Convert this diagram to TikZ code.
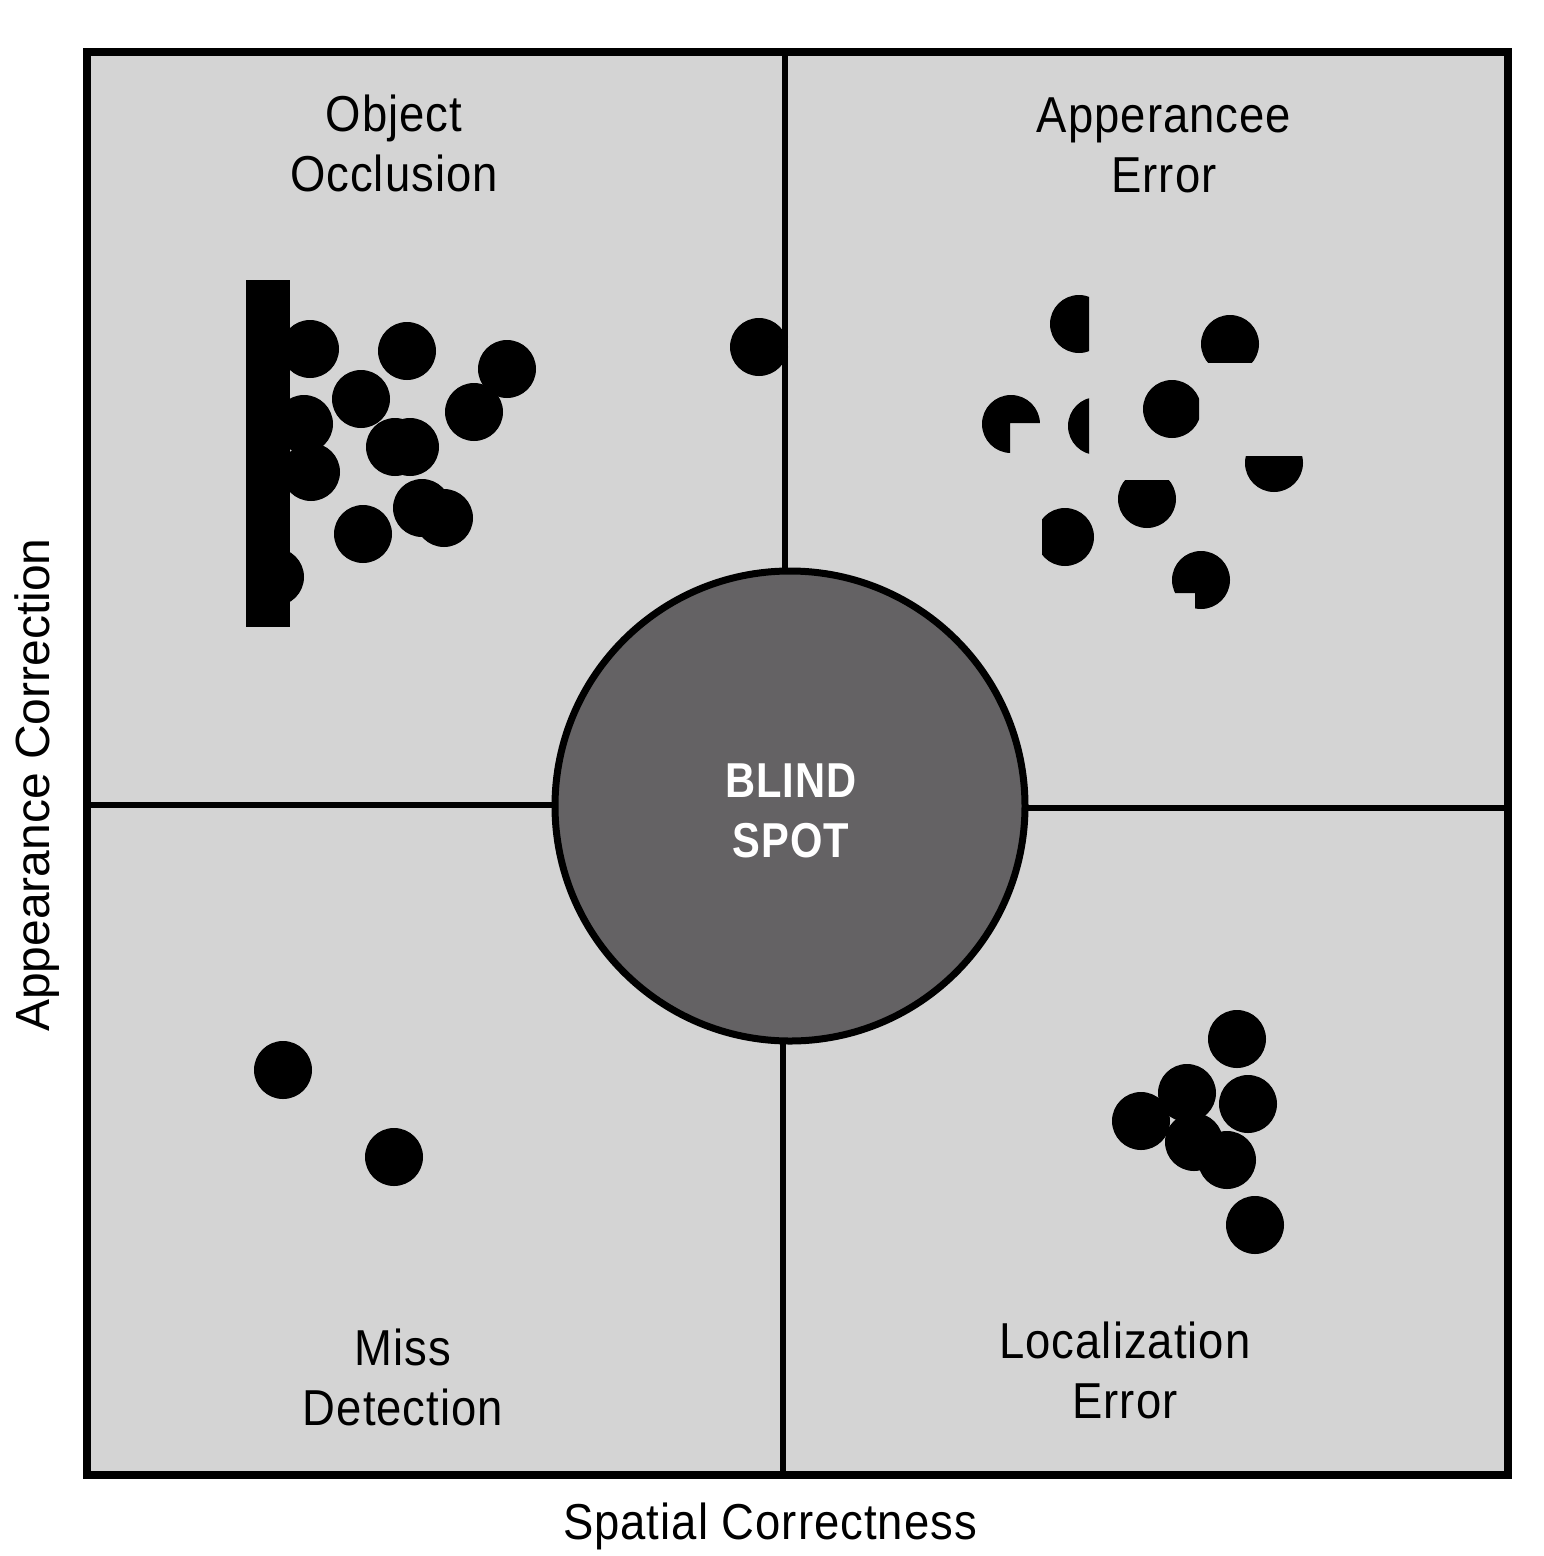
\documentclass[tikz,border=0pt]{standalone}
\usepackage{fontspec}
\setmainfont{Liberation Sans}[FakeStretch=0.9,LetterSpace=2]
\newfontfamily\axisfont{Liberation Sans}
\newfontfamily\spotfont{Liberation Sans}[FakeStretch=0.85,LetterSpace=2]
\definecolor{quadgray}{RGB}{212,212,212}
\definecolor{spotgray}{RGB}{100,98,100}
\tikzset{
  blackdot/.style={circle, fill=black, inner sep=0pt, minimum size=58pt},
  quadlabel/.style={text width=400pt, align=center, anchor=base, inner sep=0pt,
    font=\fontsize{50.5}{60}\selectfont},
  divider/.style={line width=5.5pt},
  frameline/.style={line width=8pt},
}
\begin{document}
\begin{tikzpicture}[x=1pt,y=-1pt]
\useasboundingbox (0,0) rectangle (1543,1556);
\fill[white] (0,0) rectangle (1543,1556);
% frame corners
\coordinate (tl) at (87,52);
\coordinate (br) at (1508,1475);
\fill[quadgray] (tl) rectangle (br);

% ---- Object Occlusion quadrant ----
\node[blackdot] (a1) at (310,349) {};
\node[blackdot] (a2) at (407,351) {};
\node[blackdot] (a3) at (507,369) {};
\node[blackdot] (a4) at (361,399) {};
\node[blackdot] (a5) at (474,412) {};
\node[blackdot] (a6) at (304,424) {};
\node[blackdot] (a7) at (311,472) {};
\node[blackdot] (a8) at (395,447) {};
\node[blackdot] (a9) at (410,447) {};
\node[blackdot] (a10) at (422,508) {};
\node[blackdot] (a11) at (444,518) {};
\node[blackdot] (a12) at (363,534) {};
\node[blackdot] (a13) at (275,577) {};
\node[fill=black, inner sep=0pt, minimum width=44pt, minimum height=347pt, anchor=north west] (wall) at (246,280) {};
\node[blackdot] (o1) at (759,347) {};

% ---- Appearance Error quadrant ----
\begin{scope}
  \clip (1040,290) rectangle (1089,360);
  \node[blackdot] (e1) at (1079,324) {};
\end{scope}
\begin{scope}
  \clip (1195,305) rectangle (1265,362);
  \node[blackdot] (e2) at (1230,344) {};
\end{scope}
\begin{scope}
  \clip (971,384) -- (1051,384) -- (1051,423) -- (1010,423) -- (1010,464) -- (971,464) -- cycle;
  \node[blackdot] (e3) at (1011,424) {};
\end{scope}
\begin{scope}
  \clip (1060,390) rectangle (1089,460);
  \node[blackdot] (e4) at (1097,426) {};
\end{scope}
\begin{scope}
  \clip (1135,370) rectangle (1199,445);
  \node[blackdot] (e5) at (1172,409) {};
\end{scope}
\begin{scope}
  \clip (1240,456) rectangle (1310,500);
  \node[blackdot] (e6) at (1274,463) {};
\end{scope}
\begin{scope}
  \clip (1110,480) rectangle (1185,535);
  \node[blackdot] (e7) at (1147,499) {};
\end{scope}
\begin{scope}
  \clip (1042,500) rectangle (1100,575);
  \node[blackdot] (e8) at (1065,537) {};
\end{scope}
\begin{scope}
  \clip (1161,540) -- (1241,540) -- (1241,620) -- (1195,620) -- (1195,593) -- (1161,593) -- cycle;
  \node[blackdot] (e9) at (1201,580) {};
\end{scope}

% ---- Miss Detection quadrant ----
\node[blackdot] (m1) at (283,1070) {};
\node[blackdot] (m2) at (394,1157) {};

% ---- Localization Error quadrant ----
\node[blackdot] (l1) at (1237,1039) {};
\node[blackdot] (l2) at (1187,1093) {};
\node[blackdot] (l3) at (1248,1104) {};
\node[blackdot] (l4) at (1141,1121) {};
\node[blackdot] (l5) at (1194,1142) {};
\node[blackdot] (l6) at (1227,1160) {};
\node[blackdot] (l7) at (1255,1225) {};

% ---- blind spot position ----
\coordinate (bsc) at (790,806);

% ---- dividers ----
\coordinate (vtop) at (785,52);
\coordinate (vbot) at (783,1475);
\coordinate (hleft) at (87,805);
\coordinate (hright) at (1508,808);
\draw[divider] (vtop) -- (vtop |- bsc);
\draw[divider] (vbot) -- (vbot |- bsc);
\draw[divider] (hleft) -- (hleft -| bsc);
\draw[divider] (hright) -- (hright -| bsc);

% ---- blind spot ----
\node[circle, draw=black, line width=7pt, fill=spotgray, minimum size=470pt, inner sep=0pt] (bs) at (bsc) {};
\node[font=\spotfont\bfseries\fontsize{49}{60}\selectfont, text=white, align=center, inner sep=0pt] (bst) at (791,810.5) {BLIND\\SPOT};

% ---- frame ----
\draw[frameline] (tl) rectangle (br);

% ---- quadrant labels ----
\node[quadlabel] (q1) at (394,131) {Object\\Occlusion};
\node[quadlabel] (q2) at (1164,132) {Apperancee\\Error};
\node[quadlabel] (q3) at (403,1365) {Miss\\Detection};
\node[quadlabel] (q4) at (1125,1358) {Localization\\Error};

% ---- axis labels ----
\node[anchor=base, inner sep=0pt, font=\fontsize{50.5}{60}\selectfont] (xlab) at (770,1539) {Spatial Correctness};
\node[anchor=base, rotate=90, inner sep=0pt, font=\axisfont\fontsize{48}{58}\selectfont] (ylab) at (49,785) {Appearance Correction};
\end{tikzpicture}
\end{document}
